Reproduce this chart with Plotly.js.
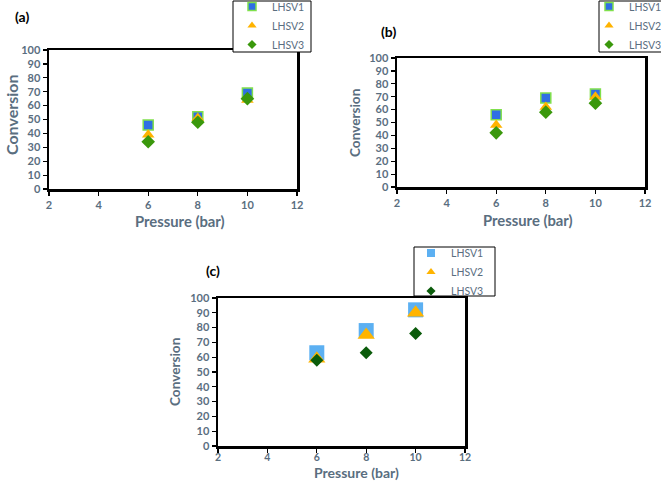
<!DOCTYPE html>
<html>
<head>
<meta charset="utf-8">
<script src="https://cdn.plot.ly/plotly-3.0.1.min.js"></script>
<style>html,body{margin:0;padding:0;background:#fff;overflow:hidden;}#chart{width:661px;height:481px;}</style>
</head>
<body>
<div id="chart"></div>
<script>
var pressure = [6, 8, 10];
var seriesNames = ["LHSV1", "LHSV2", "LHSV3"];
var panelLabels = ["(a)", "(b)", "(c)"];
var xTitle = "Pressure (bar)";
var yTitle = "Conversion";

var a_LHSV1 = [46, 52, 69];
var a_LHSV2 = [39, 51, 64];
var a_LHSV3 = [34, 48, 65];

var b_LHSV1 = [56, 69, 72];
var b_LHSV2 = [48, 62, 70];
var b_LHSV3 = [42, 58, 65];

var c_LHSV1 = [63, 78, 92];
var c_LHSV2 = [59, 75, 90];
var c_LHSV3 = [58, 63, 76];

var W = 661, H = 481;
function px(x) { return x / W; }
function py(y) { return 1 - y / H; }

var FONT = "Lato, 'Open Sans', sans-serif";
var gray = "#5A6E7F";

var abStyles = [
  {symbol: "square", size: 10, color: "#2F6FE4", line: {color: "#80E04C", width: 1.5}},
  {symbol: "triangle-up", size: 11, color: "#FFB300", line: {width: 0}},
  {symbol: "diamond", size: 10.5, color: "#3A980C", line: {width: 0}}
];
var cStyles = [
  {symbol: "square", size: 15, color: "#5CB0F2", line: {width: 0}},
  {symbol: "triangle-up", size: 15, color: "#FFB400", line: {width: 0}},
  {symbol: "diamond", size: 10, color: "#0B5C0B", line: {width: 0}}
];

var panels = [
  {vals: [a_LHSV1, a_LHSV2, a_LHSV3], xa: "x", ya: "y", leg: "legend", styles: abStyles},
  {vals: [b_LHSV1, b_LHSV2, b_LHSV3], xa: "x2", ya: "y2", leg: "legend2", styles: abStyles},
  {vals: [c_LHSV1, c_LHSV2, c_LHSV3], xa: "x3", ya: "y3", leg: "legend3", styles: cStyles}
];

var traces = [];
panels.forEach(function (p, k) {
  for (var i = 0; i < 3; i++) {
    traces.push({
      type: "scatter", mode: "markers",
      x: pressure, y: p.vals[i], name: seriesNames[i],
      xaxis: p.xa, yaxis: p.ya, showlegend: false,
      legendgroup: "g" + k + i,
      marker: p.styles[i]
    });
  }
});
// legend entries (small symbols, no data drawn)
panels.forEach(function (p, k) {
  for (var i = 0; i < 3; i++) {
    var s = p.styles[i];
    traces.push({
      type: "scatter", mode: "markers",
      x: [null], y: [null], name: seriesNames[i],
      xaxis: p.xa, yaxis: p.ya, legend: p.leg, showlegend: true,
      legendgroup: "g" + k + i,
      marker: {symbol: s.symbol, size: (i === 2 ? 7 : 8), color: s.color, line: s.line}
    });
  }
});

function xax(domain, anchor, standoff, fs) {
  return {
    domain: domain, anchor: anchor, range: [2, 12], dtick: 2, tick0: 2,
    showgrid: false, zeroline: false, showline: true, linecolor: "#000", linewidth: 2.5, mirror: true,
    ticks: "outside", ticklen: 4, tickwidth: 1.2, tickcolor: "#000", automargin: false,
    ticklabelstandoff: standoff || 0,
    tickfont: {family: FONT, size: fs || 11, color: gray, weight: "bold"}
  };
}
function yax(domain, anchor) {
  return {
    domain: domain, anchor: anchor, range: [0, 100], dtick: 10,
    showgrid: false, zeroline: false, showline: true, linecolor: "#000", linewidth: 2.5, mirror: true,
    ticks: "outside", ticklen: 4, tickwidth: 1.2, tickcolor: "#000", automargin: false,
    tickfont: {family: FONT, size: 11, color: gray, weight: "bold"}
  };
}
function legendAt(textLeft, midItemY) {
  return {
    x: px(textLeft - 30), xanchor: "left", y: py(midItemY - 33), yanchor: "top",
    bgcolor: "rgba(0,0,0,0)", borderwidth: 0,
    font: {family: FONT, size: 10.5, color: gray},
    itemsizing: "trace", tracegroupgap: 0, itemwidth: 30
  };
}
function box(x0, y0, x1, y1) {
  return {type: "rect", xref: "paper", yref: "paper", x0: px(x0), x1: px(x1), y0: py(y0), y1: py(y1),
          line: {color: "#000", width: 1}, fillcolor: "#fff", layer: "above"};
}
function ann(text, x, y, size, color, angle) {
  return {text: text, x: px(x), y: py(y), xref: "paper", yref: "paper", showarrow: false,
          xanchor: "center", yanchor: "middle", textangle: angle || 0, borderpad: 0,
          font: {family: FONT, size: size, color: color, weight: "bold"}};
}

var layout = {
  width: W, height: H,
  margin: {l: 0, r: 0, t: 0, b: 0, autoexpand: false},
  paper_bgcolor: "#fff", plot_bgcolor: "#fff",
  xaxis: xax([px(49), px(297)], "y"),
  yaxis: yax([py(189), py(50)], "x"),
  xaxis2: xax([px(397), px(645)], "y2"),
  yaxis2: yax([py(187), py(58)], "x2"),
  xaxis3: xax([px(218), px(465)], "y3", -4, 10.5),
  yaxis3: yax([py(446), py(298)], "x3"),
  legend: legendAt(262, 25),
  legend2: legendAt(619, 25),
  legend3: legendAt(441, 271.5),
  shapes: [
    box(233, 1, 311, 52),
    box(599, 1, 662, 52),
    box(414, 247, 495, 296)
  ],
  annotations: [
    ann(panelLabels[0], 22, 16, 14, "#000"),
    ann(panelLabels[1], 388, 31, 14, "#000"),
    ann(panelLabels[2], 213, 270, 14, "#000"),
    ann(xTitle, 180, 221, 14.8, gray),
    ann(xTitle, 528, 220, 14.8, gray),
    ann(xTitle, 356, 472.5, 14, gray),
    ann(yTitle, 11, 115, 16, gray, -90),
    ann(yTitle, 355, 123, 13.6, gray, -90),
    ann(yTitle, 175, 372, 13.6, gray, -90)
  ],
  showlegend: true
};

Plotly.newPlot("chart", traces, layout, {displayModeBar: false, staticPlot: true});
</script>
</body>
</html>
